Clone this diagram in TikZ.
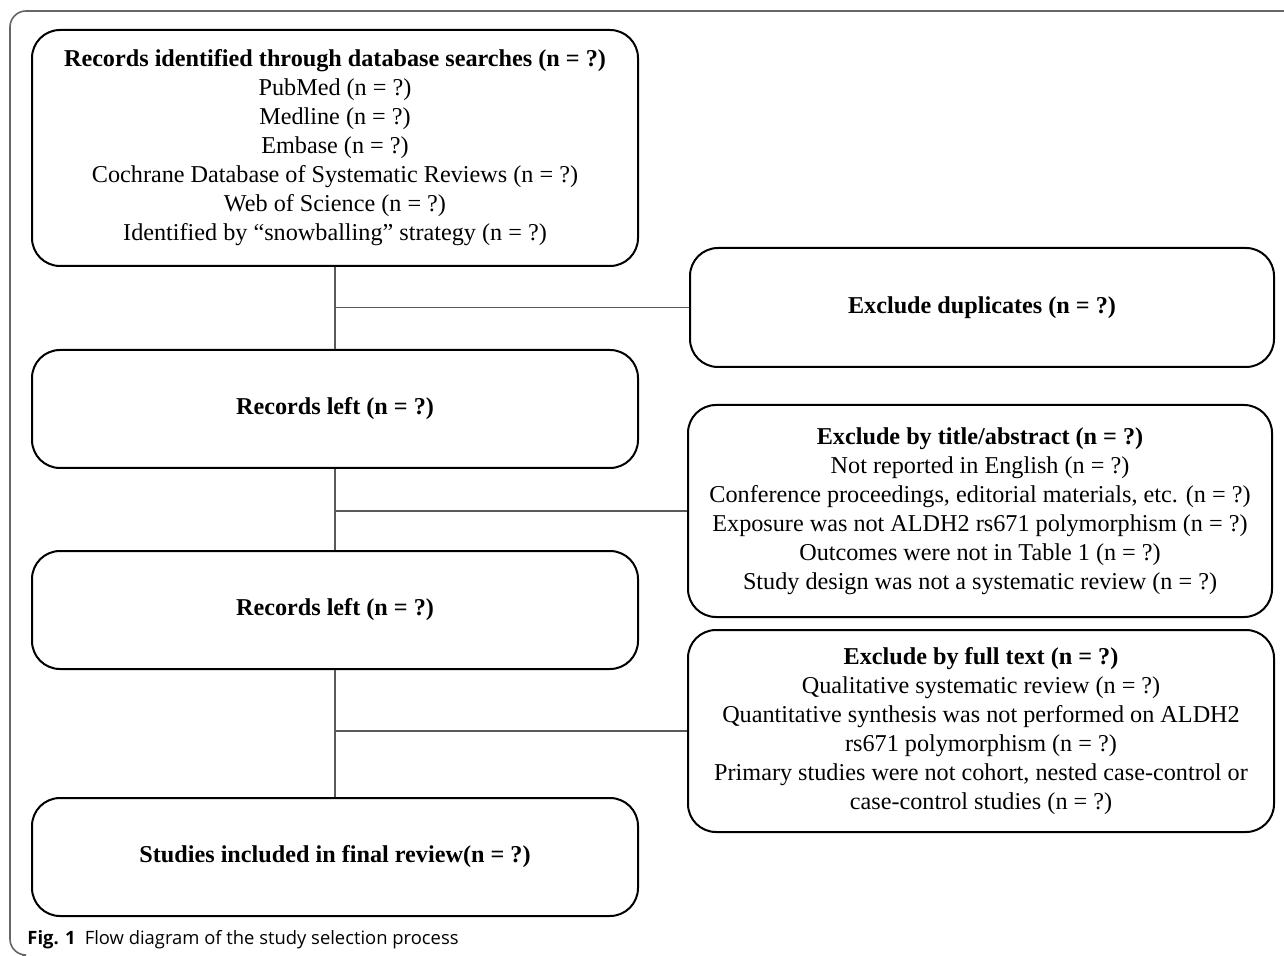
\documentclass[tikz,border=0pt]{standalone}
\usepackage{fontspec}
\setmainfont{Liberation Serif}
\newfontfamily\capfont{Open Sans}
\usetikzlibrary{shapes, positioning}

\tikzset{
    flowbox/.style={draw, line width=1pt, rounded corners=14pt, align=center,
        font=\fontsize{12.1}{14.5}\selectfont, inner sep=0pt},
    conn/.style={draw=black!65, line width=0.7pt},
}

\begin{document}
\begin{tikzpicture}[x=0.5pt, y=-0.5pt]
        \useasboundingbox (0,0) rectangle (1284,956);
        % outer frame of the figure
        \draw[black!60, line width=0.8pt, rounded corners=8pt] (1284,11) -- (10,11) -- (10,955) -- (22,955);

        \node[flowbox, minimum width=303pt, minimum height=118pt] (rec) at (335,148)
            {\textbf{Records identified through database searches (n = ?)}\\
             PubMed (n = ?)\\ Medline (n = ?)\\ Embase (n = ?)\\
             Cochrane Database of Systematic Reviews (n = ?)\\
             Web of Science (n = ?)\\
             Identified by ``snowballing'' strategy (n = ?)};
        \node[flowbox, minimum width=292pt, minimum height=59.5pt] (dupl) at (982,307.5)
            {\textbf{Exclude duplicates (n = ?)}};
        \node[flowbox, minimum width=303pt, minimum height=59pt] (left1) at (335,409)
            {\textbf{Records left (n = ?)}};
        \node[flowbox, minimum width=292pt, minimum height=106pt] (title) at (980,511)
            {\textbf{Exclude by title/abstract (n = ?)}\\
             Not reported in English (n = ?)\\
             Conference proceedings, editorial materials, etc. (n = ?)\\
             Exposure was not ALDH2 rs671 polymorphism (n = ?)\\
             Outcomes were not in Table 1 (n = ?)\\
             Study design was not a systematic review (n = ?)};
        \node[flowbox, minimum width=303pt, minimum height=59pt] (left2) at (335,610)
            {\textbf{Records left (n = ?)}};
        \node[flowbox, minimum width=293pt, minimum height=101pt] (full) at (981,731)
            {\textbf{Exclude by full text (n = ?)}\\
             Qualitative systematic review (n = ?)\\
             Quantitative synthesis was not performed on ALDH2\\
             rs671 polymorphism (n = ?)\\
             Primary studies were not cohort, nested case-control or\\
             case-control studies (n = ?)};
        \node[flowbox, minimum width=303pt, minimum height=59pt] (incl) at (335,857)
            {\textbf{Studies included in final review(n = ?)}};

        \node[anchor=base west, font=\capfont\fontsize{9.2}{11}\selectfont, inner sep=0pt] (cap) at (27,944)
            {\textbf{Fig. 1}\enspace Flow diagram of the study selection process};

        \draw[conn] (rec) -- (left1);
        \draw[conn] (rec.south |- dupl.west) -- (dupl.west);
        \draw[conn] (left1) -- (left2);
        \draw[conn] (left1.south |- title.west) -- (title.west);
        \draw[conn] (left2) -- (incl);
        \draw[conn] (left2.south |- full.west) -- (full.west);
    \end{tikzpicture}
\end{document}
